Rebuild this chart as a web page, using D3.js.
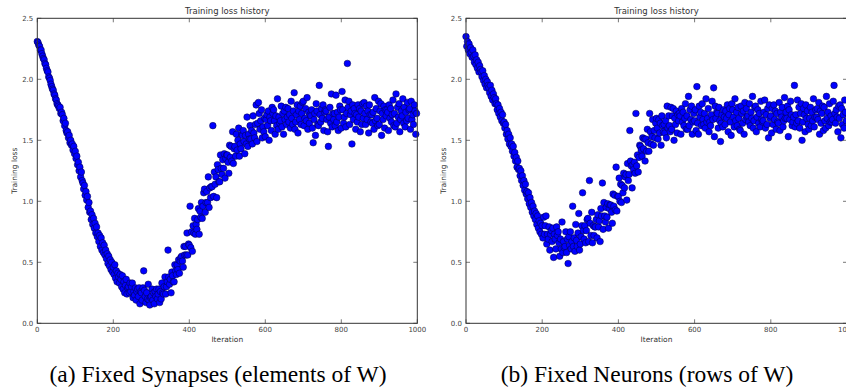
<!DOCTYPE html>
<html>
<head>
<meta charset="utf-8">
<script src="https://cdn.jsdelivr.net/npm/d3@7"></script>
<style>
  body { margin: 0; background: #fff; }
  svg { display: block; }
</style>
</head>
<body>
<div id="chart"></div>
<script>
// loss logged every 2 iterations, 10 values (20 iterations) per row
const iterations = d3.range(0, 1000, 2);

const synapseLoss = [
  2.31,2.30,2.28,2.27,2.24,2.24,2.21,2.19,2.17,2.16,
  2.13,2.12,2.09,2.07,2.06,2.02,2.01,1.99,1.96,1.94,
  1.92,1.91,1.88,1.87,1.84,1.83,1.80,1.79,1.78,1.76,
  1.77,1.72,1.73,1.71,1.66,1.68,1.62,1.64,1.58,1.56,
  1.57,1.52,1.54,1.48,1.50,1.46,1.47,1.42,1.45,1.39,
  1.41,1.35,1.37,1.30,1.32,1.25,1.28,1.20,1.24,1.17,
  1.15,1.10,1.13,1.05,1.08,1.01,1.04,0.95,0.99,0.91,
  0.92,0.85,0.89,0.81,0.86,0.78,0.82,0.74,0.79,0.71,
  0.74,0.67,0.72,0.63,0.70,0.60,0.66,0.58,0.64,0.56,
  0.60,0.53,0.57,0.49,0.55,0.47,0.52,0.44,0.50,0.42,
  0.46,0.40,0.48,0.37,0.43,0.34,0.41,0.38,0.33,0.40,
  0.36,0.30,0.39,0.28,0.34,0.25,0.31,0.36,0.24,0.29,
  0.30,0.25,0.33,0.26,0.30,0.33,0.21,0.26,0.23,0.29,
  0.19,0.26,0.28,0.22,0.29,0.16,0.26,0.25,0.19,0.29,
  0.43,0.27,0.22,0.17,0.25,0.20,0.32,0.19,0.15,0.21,
  0.22,0.28,0.19,0.25,0.16,0.26,0.22,0.28,0.20,0.24,
  0.28,0.17,0.26,0.20,0.33,0.25,0.24,0.30,0.38,0.24,
  0.30,0.34,0.60,0.38,0.32,0.36,0.25,0.42,0.39,0.34,
  0.34,0.48,0.43,0.40,0.48,0.44,0.52,0.41,0.51,0.54,
  0.55,0.51,0.46,0.63,0.56,0.63,0.56,0.74,0.56,0.65,
  0.64,0.96,0.62,0.75,0.59,0.80,0.74,0.86,0.73,0.81,
  0.77,0.85,0.94,0.73,0.92,0.87,0.99,0.86,0.96,1.07,
  1.10,0.91,0.99,1.08,0.99,1.20,0.95,1.11,1.03,1.12,
  1.12,1.62,1.04,1.24,1.14,1.20,1.03,1.30,1.26,1.16,
  1.16,1.38,1.27,1.22,1.34,1.27,1.39,1.19,1.35,1.38,
  1.38,1.32,1.23,1.46,1.36,1.45,1.33,1.57,1.31,1.43,
  1.45,1.37,1.55,1.42,1.50,1.60,1.37,1.47,1.43,1.55,
  1.54,1.58,1.49,1.39,1.54,1.47,1.69,1.45,1.55,1.51,
  1.62,1.51,1.58,1.47,1.70,1.56,1.52,1.63,1.79,1.49,
  1.64,1.81,1.72,1.59,1.66,1.75,1.52,1.61,1.57,1.68,
  1.53,1.67,1.71,1.62,1.74,1.50,1.69,1.66,1.58,1.77,
  1.72,1.75,1.66,1.55,1.70,1.62,1.84,1.59,1.69,1.64,
  1.66,1.78,1.61,1.72,1.55,1.74,1.67,1.77,1.63,1.69,
  1.76,1.65,1.71,1.60,1.82,1.68,1.63,1.74,1.89,1.59,
  1.65,1.71,1.79,1.56,1.74,1.67,1.78,1.63,1.72,1.81,
  1.82,1.62,1.68,1.76,1.66,1.85,1.59,1.73,1.64,1.71,
  1.70,1.75,1.60,1.48,1.67,1.72,1.54,1.80,1.74,1.63,
  1.62,1.95,1.71,1.65,1.76,1.68,1.79,1.58,1.73,1.75,
  1.74,1.67,1.57,1.45,1.69,1.77,1.64,1.88,1.61,1.72,
  1.67,1.72,1.62,1.87,1.65,1.73,1.58,1.69,1.78,1.75,
  1.60,1.90,1.75,1.64,1.69,1.83,1.61,1.72,2.13,1.77,
  1.82,1.63,1.71,1.74,1.47,1.79,1.67,1.76,1.72,1.59,
  1.71,1.65,1.79,1.69,1.76,1.57,1.74,1.63,1.80,1.68,
  1.81,1.72,1.63,1.78,1.67,1.74,1.56,1.79,1.71,1.65,
  1.71,1.64,1.73,1.59,1.85,1.66,1.76,1.68,1.62,1.82,
  1.63,1.74,1.80,1.54,1.72,1.67,1.78,1.60,1.75,1.70,
  1.75,1.73,1.58,1.79,1.68,1.76,1.65,1.71,1.83,1.62,
  1.72,1.61,1.88,1.64,1.77,1.69,1.80,1.57,1.67,1.74,
  1.70,1.84,1.64,1.77,1.61,1.73,1.66,1.81,1.68,1.75,
  1.76,1.59,1.82,1.67,1.71,1.63,1.79,1.74,1.55,1.72
];

const neuronLoss = [
  2.35,2.27,2.31,2.24,2.29,2.21,2.26,2.22,2.18,2.24,
  2.19,2.14,2.20,2.12,2.16,2.09,2.14,2.06,2.11,2.08,
  2.06,2.02,2.07,1.99,2.03,1.96,2.00,1.93,1.98,1.95,
  1.93,1.89,1.95,1.86,1.91,1.83,1.88,1.85,1.80,1.84,
  1.80,1.75,1.79,1.72,1.76,1.69,1.73,1.66,1.71,1.64,
  1.65,1.60,1.63,1.55,1.58,1.51,1.55,1.47,1.52,1.45,
  1.47,1.41,1.45,1.37,1.40,1.33,1.36,1.28,1.33,1.26,
  1.27,1.21,1.25,1.17,1.21,1.13,1.17,1.09,1.14,1.06,
  1.08,1.02,1.07,0.98,1.03,0.95,0.99,0.91,0.96,0.88,
  0.92,0.85,0.90,0.81,0.88,0.78,0.84,0.75,0.82,0.73,
  0.80,0.70,0.87,0.73,0.80,0.88,0.65,0.73,0.69,0.79,
  0.60,0.73,0.76,0.67,0.78,0.54,0.73,0.69,0.61,0.79,
  0.72,0.75,0.66,0.55,0.69,0.61,0.83,0.58,0.67,0.62,
  0.63,0.75,0.58,0.69,0.49,0.71,0.64,0.75,0.61,0.67,
  0.96,0.63,0.70,0.59,0.81,0.68,0.63,0.74,0.90,0.60,
  0.65,0.71,0.80,1.07,0.76,0.69,0.80,0.66,0.76,0.85,
  0.86,0.67,1.17,0.82,0.72,0.91,0.66,0.80,0.72,0.79,
  0.79,0.85,0.70,0.89,0.79,0.84,0.67,0.94,0.88,1.15,
  0.77,0.99,0.88,0.83,0.95,0.87,0.98,0.78,0.94,0.97,
  0.97,0.91,0.82,1.06,0.96,1.05,0.93,1.28,0.92,1.04,
  1.04,1.19,1.00,1.14,0.99,1.13,1.07,1.23,1.11,1.20,
  1.22,1.01,1.31,1.17,1.22,1.58,1.33,1.29,1.11,1.30,
  1.26,1.32,1.23,1.72,1.29,1.38,1.24,1.36,1.46,1.45,
  1.42,1.37,1.52,1.43,1.51,1.33,1.51,1.41,1.59,1.48,
  1.41,1.72,1.57,1.47,1.53,1.67,1.46,1.58,1.52,1.64,
  1.68,1.60,1.51,1.67,1.56,1.64,1.46,1.70,1.62,1.57,
  1.63,1.56,1.66,1.52,1.78,1.60,1.70,1.62,1.57,1.77,
  1.59,1.70,1.76,1.50,1.68,1.63,1.74,1.56,1.71,1.66,
  1.72,1.70,1.55,1.76,1.65,1.73,1.62,1.68,1.80,1.59,
  1.70,1.59,1.86,1.62,1.75,1.67,1.78,1.55,1.65,1.72,
  1.66,1.75,1.58,1.94,1.64,1.55,1.78,1.69,1.73,1.62,
  1.80,1.67,1.63,1.72,1.60,1.84,1.65,1.68,1.76,1.57,
  1.65,1.62,1.71,1.82,1.67,1.93,1.53,1.78,1.68,1.73,
  1.72,1.60,1.77,1.66,1.49,1.64,1.71,1.61,1.75,1.69,
  1.63,1.74,1.68,1.79,1.57,1.71,1.76,1.65,1.54,1.80,
  1.75,1.69,1.61,1.84,1.66,1.73,1.62,1.77,1.68,1.59,
  1.58,1.78,1.72,1.64,1.74,1.55,1.81,1.67,1.76,1.69,
  1.70,1.65,1.80,1.62,1.73,1.68,1.86,1.60,1.66,1.77,
  1.78,1.57,1.69,1.75,1.64,1.72,1.61,1.82,1.67,1.65,
  1.66,1.73,1.83,1.60,1.71,1.63,1.76,1.52,1.79,1.68,
  1.70,1.56,1.76,1.63,1.79,1.67,1.74,1.59,1.72,1.65,
  1.64,1.81,1.58,1.73,1.69,1.77,1.61,1.66,1.85,1.68,
  1.73,1.68,1.78,1.53,1.75,1.67,1.82,1.71,1.62,1.65,
  1.69,1.95,1.61,1.71,1.64,1.83,1.66,1.77,1.60,1.72,
  1.80,1.50,1.65,1.76,1.71,1.57,1.79,1.68,1.74,1.63,
  1.59,1.68,1.77,1.62,1.73,1.66,1.84,1.61,1.69,1.75,
  1.69,1.76,1.67,1.81,1.55,1.74,1.64,1.72,1.78,1.58,
  1.77,1.66,1.60,1.86,1.68,1.73,1.62,1.80,1.65,1.70,
  1.65,1.67,1.82,1.95,1.72,1.64,1.75,1.69,1.57,1.78,
  1.68,1.79,1.52,1.76,1.63,1.71,1.60,1.83,1.73,1.66
];

const xTicks = [0, 200, 400, 600, 800, 1000];
const yTicks = [0.0, 0.5, 1.0, 1.5, 2.0, 2.5];
const titles = ["Training loss history", "Training loss history"];
const captions = ["(a) Fixed Synapses (elements of W)", "(b) Fixed Neurons (rows of W)"];

const width = 846;
const height = 387;

const svg = d3.select("#chart").append("svg")
    .attr("width", width)
    .attr("height", height);

const panels = [
    { left: 37.3, right: 417.3, loss: synapseLoss, caption: 218 },
    { left: 466, right: 847, loss: neuronLoss, caption: 647 }
];
const plotTop = 18.3, plotBottom = 323.3;

const drawPanel = (p, i) => {
    const x = d3.scaleLinear().domain([0, 1000]).range([p.left, p.right]);
    const y = d3.scaleLinear().domain([0, 2.5]).range([plotBottom, plotTop]);
    const g = svg.append("g");
    const tickLen = 4;

    // points first so the frame sits on top
    g.append("g")
      .selectAll("circle")
      .data(iterations.map((it, k) => [it, p.loss[k]]))
      .join("circle")
        .attr("cx", d => x(d[0]))
        .attr("cy", d => y(d[1]))
        .attr("r", 3.3)
        .attr("fill", "#0000ff")
        .attr("stroke", "#00003a")
        .attr("stroke-width", 0.5);

    // inward ticks on every side, matplotlib classic style
    const frame = g.append("g").attr("stroke", "#555").attr("stroke-width", 0.8);
    frame.selectAll(".xt")
      .data(xTicks)
      .join("path")
        .attr("d", d => `M${x(d)},${plotBottom}v${-tickLen}M${x(d)},${plotTop}v${tickLen}`);
    frame.selectAll(".yt")
      .data(yTicks)
      .join("path")
        .attr("d", d => `M${p.left},${y(d)}h${tickLen}M${p.right},${y(d)}h${-tickLen}`);
    frame.append("rect")
        .attr("x", p.left)
        .attr("y", plotTop)
        .attr("width", p.right - p.left)
        .attr("height", plotBottom - plotTop)
        .attr("fill", "none")
        .attr("stroke", "#333")
        .attr("stroke-width", 1);

    const labels = g.append("g")
        .attr("font-family", "DejaVu Sans, sans-serif")
        .attr("font-size", 7)
        .attr("fill", "#444");
    labels.selectAll(".xl")
      .data(xTicks)
      .join("text")
        .attr("x", d => x(d))
        .attr("y", plotBottom + 9)
        .attr("text-anchor", "middle")
        .text(d => d);
    labels.selectAll(".yl")
      .data(yTicks)
      .join("text")
        .attr("x", p.left - 4)
        .attr("y", d => y(d) + 2.5)
        .attr("text-anchor", "end")
        .text(d => d3.format(".1f")(d));

    const mid = (p.left + p.right) / 2;
    g.append("text")
        .attr("x", mid)
        .attr("y", 13.5)
        .attr("text-anchor", "middle")
        .attr("font-family", "DejaVu Sans, sans-serif")
        .attr("font-size", 8.5)
        .attr("fill", "#333")
        .text(titles[i]);

    g.append("text")
        .attr("x", mid)
        .attr("y", 342)
        .attr("text-anchor", "middle")
        .attr("font-family", "DejaVu Sans, sans-serif")
        .attr("font-size", 7.5)
        .attr("fill", "#333")
        .text("Iteration");

    g.append("text")
        .attr("transform", `translate(${p.left - 20},${(plotTop + plotBottom) / 2}) rotate(-90)`)
        .attr("text-anchor", "middle")
        .attr("font-family", "DejaVu Sans, sans-serif")
        .attr("font-size", 7.5)
        .attr("fill", "#333")
        .text("Training loss");

    g.append("text")
        .attr("x", p.caption)
        .attr("y", 382)
        .attr("text-anchor", "middle")
        .attr("font-family", "Liberation Serif, Times New Roman, serif")
        .attr("font-size", 23.5)
        .attr("fill", "#000")
        .text(captions[i]);
};

panels.forEach(drawPanel);
</script>
</body>
</html>
